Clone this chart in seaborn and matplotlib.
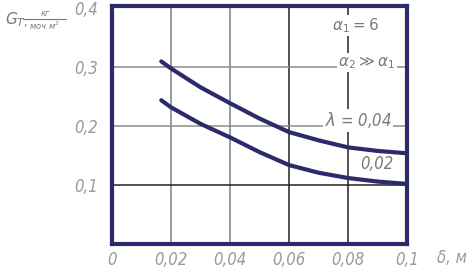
import seaborn as sns
import matplotlib.pyplot as plt
import pandas as pd

sns.set_style("white")
plt.rcParams['font.family'] = ['DejaVu Sans']

# thickness delta, m
delta = [0.0167, 0.02, 0.03, 0.04, 0.05, 0.06, 0.07, 0.08, 0.09, 0.1]
# lambda = 0.04
g_04 = [0.310, 0.298, 0.266, 0.239, 0.213, 0.190, 0.176, 0.164, 0.158, 0.154]
# lambda = 0.02
g_02 = [0.244, 0.232, 0.204, 0.181, 0.156, 0.134, 0.121, 0.112, 0.106, 0.102]

x_ticks = [0, 0.02, 0.04, 0.06, 0.08, 0.1]
x_labels = ['0', '0,02', '0,04', '0,06', '0,08', '0,1']
y_ticks = [0.1, 0.2, 0.3, 0.4]
y_labels = ['0,1', '0,2', '0,3', '0,4']

df = pd.DataFrame({'delta': delta * 2, 'G': g_04 + g_02,
                   'lam': ['0,04'] * len(delta) + ['0,02'] * len(delta)})

navy = '#2b2a6b'
txt = '#9a9a9a'
fp = dict(style='italic', stretch='condensed', color=txt)

fig = plt.figure(figsize=(4.72, 2.77), dpi=100)
ax = fig.add_axes([112 / 472, 1 - 244 / 277, 295 / 472, 238 / 277])

# grid
for x in x_ticks[1:-1]:
    ax.axvline(x, color='#808080' if x < 0.05 else '#222222', lw=1.1, zorder=1)
for y in y_ticks[:-1]:
    ax.axhline(y, color='#8c8c8c' if y > 0.15 else '#222222', lw=1.1, zorder=1)

sns.lineplot(data=df, x='delta', y='G', hue='lam', palette=[navy, navy],
             lw=3, legend=False, ax=ax, zorder=3)

ax.set_xlim(0, 0.1)
ax.set_ylim(0, 0.404)
ax.set_xticks(x_ticks)
ax.set_xticklabels(x_labels, fontsize=12, **fp)
ax.set_yticks(y_ticks)
ax.set_yticklabels(y_labels, fontsize=12, **fp)
ax.tick_params(axis='x', length=0, pad=5)
ax.tick_params(axis='y', length=0, pad=10)
ax.set_xlabel('')
ax.set_ylabel('')
for s in ax.spines.values():
    s.set_color(navy)
    s.set_linewidth(3)

box = dict(facecolor='white', edgecolor='none', pad=1)
tc = '#7a7a7a'
ax.text(0.0824, 0.371, r'$\alpha_1 = 6$', fontsize=11, color=tc,
        ha='center', va='center', bbox=box, zorder=4)
ax.text(0.0864, 0.308, r'$\alpha_2 \gg \alpha_1$', fontsize=11, color=tc,
        ha='center', va='center', bbox=box, zorder=4)
ax.text(0.0834, 0.210, r'$\lambda$ = 0,04', fontsize=12, color=tc,
        ha='center', va='center', bbox=box, zorder=4, style='italic',
        stretch='condensed')
ax.text(0.0898, 0.136, '0,02', fontsize=12, color=tc,
        ha='center', va='center', zorder=4, style='italic', stretch='condensed')

fig.text(5 / 472, 1 - 20 / 277, r'$G_{T,}$', fontsize=11, color=tc,
         ha='left', va='center', style='italic')
fig.text(45 / 472, 1 - 13 / 277, 'кг', fontsize=6, color=tc,
         ha='center', va='center', style='italic')
fig.add_artist(plt.Line2D([23 / 472, 66 / 472], [1 - 19 / 277, 1 - 19 / 277],
                          color=tc, lw=0.8))
fig.text(44 / 472, 1 - 26 / 277, r'моч м$^2$', fontsize=6, color=tc,
         ha='center', va='center', style='italic')
fig.text(437 / 472, 1 - 258 / 277, 'δ, м', fontsize=12, ha='left',
         va='center', **fp)

fig.savefig('out.png', dpi=100)
